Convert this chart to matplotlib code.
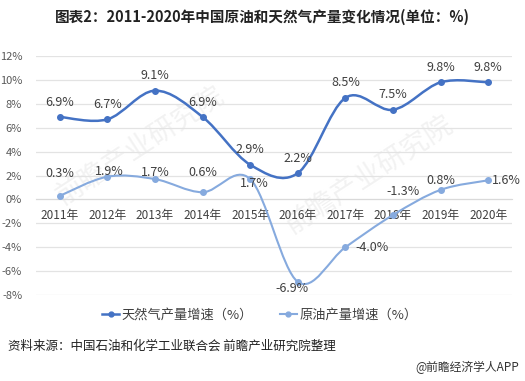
import numpy as np
import matplotlib
matplotlib.use('Agg')
import matplotlib.pyplot as plt
from matplotlib.path import Path
from matplotlib.patches import PathPatch
from matplotlib.lines import Line2D

plt.rcParams['font.family'] = ['Noto Sans CJK SC', 'DejaVu Sans']

# data
years = ['2011年', '2012年', '2013年', '2014年', '2015年',
         '2016年', '2017年', '2018年', '2019年', '2020年']
gas_growth = [6.9, 6.7, 9.1, 6.9, 2.9, 2.2, 8.5, 7.5, 9.8, 9.8]
oil_growth = [0.3, 1.9, 1.7, 0.6, 1.7, -6.9, -4.0, -1.3, 0.8, 1.6]
gas_name = '天然气产量增速（%）'
oil_name = '原油产量增速（%）'

# label offsets in points (dx, dy)
gas_offsets = [(0, 6)] * 10
oil_offsets = [(0, 16), (1, 4), (0, 5), (0, 14), (3, -3),
               (-4, -5), (19, 0), (7, 17), (0, 7), (13, 0)]

gas_color = '#4472c4'
oil_color = '#86aade'


def smooth_path(xs, ys):
    # catmull-rom spline as cubic bezier segments
    pts = np.column_stack([xs, ys]).astype(float)
    n = len(pts)
    verts = [pts[0]]
    codes = [Path.MOVETO]
    for i in range(n - 1):
        p0 = pts[i - 1] if i > 0 else pts[i]
        p1 = pts[i]
        p2 = pts[i + 1]
        p3 = pts[i + 2] if i + 2 < n else pts[i + 1]
        c1 = p1 + (p2 - p0) / 6.0
        c2 = p2 - (p3 - p1) / 6.0
        verts += [c1, c2, p2]
        codes += [Path.CURVE4] * 3
    return Path(verts, codes)


fig = plt.figure(figsize=(5.25, 3.81), dpi=100)
ax = fig.add_axes([0.0686, 0.2257, 0.9067, 0.6273])

# faint watermarks, below everything in the axes
for wx, wy in [(0.22, 0.62), (0.70, 0.50)]:
    ax.text(wx, wy, '前瞻产业研究院', fontsize=20, color='#f2f2f2', rotation=33,
            ha='center', va='center', transform=ax.transAxes, zorder=1)

x = np.arange(len(years))
for vals, col, lw in [(oil_growth, oil_color, 1.5), (gas_growth, gas_color, 1.8)]:
    ax.add_patch(PathPatch(smooth_path(x, vals), facecolor='none',
                           edgecolor=col, lw=lw, zorder=3))
    ax.plot(x, vals, 'o', color=col, ms=4, zorder=4)

for xi, v, (dx, dy) in zip(x, gas_growth, gas_offsets):
    ax.annotate(f'{v:.1f}%', (xi, v), xytext=(dx, dy), textcoords='offset points',
                ha='center', va='bottom', fontsize=9, color='#404040', zorder=5)
for xi, v, (dx, dy) in zip(x, oil_growth, oil_offsets):
    ax.annotate(f'{v:.1f}%', (xi, v), xytext=(dx, dy), textcoords='offset points',
                ha='center', va='center', fontsize=9, color='#404040', zorder=5)

ax.set_xlim(-0.5, len(years) - 0.5)
ax.set_ylim(-8, 12)
yt = np.arange(-8, 13, 2)
ax.set_yticks(yt)
ax.set_yticklabels([f'{t}%' for t in yt])
ax.grid(axis='y', color='#e3e3e3', lw=0.9, zorder=0)
ax.set_xticks(x)
ax.set_xticklabels(years)
ax.spines['bottom'].set_position(('data', 0))
ax.spines['bottom'].set_color('#d9d9d9')
for s in ['top', 'right', 'left']:
    ax.spines[s].set_visible(False)
ax.tick_params(axis='x', length=0, pad=7, labelsize=8.5, labelcolor='#404040')
ax.tick_params(axis='y', length=0, pad=10, labelsize=8, labelcolor='#595959')

handles = [Line2D([], [], color=gas_color, lw=1.8, marker='o', ms=3.5),
           Line2D([], [], color=oil_color, lw=1.5, marker='o', ms=3.5)]
fig.legend(handles, [gas_name, oil_name], loc='center', bbox_to_anchor=(0.495, 0.173),
           ncol=2, frameon=False, fontsize=9.5, handlelength=1.3, handletextpad=0.2,
           columnspacing=2.0, labelcolor='#404040')

fig.text(0.5, 0.955, '图表2：2011-2020年中国原油和天然气产量变化情况(单位：%)',
         ha='center', va='center', fontsize=10.5, fontweight='bold', color='#222222')
fig.text(0.015, 0.09, '资料来源：中国石油和化学工业联合会 前瞻产业研究院整理',
         ha='left', va='center', fontsize=9, color='#222222')
fig.text(0.988, 0.035, '@前瞻经济学人APP', ha='right', va='center',
         fontsize=8.5, color='#333333')

fig.savefig('out.png', dpi=100)
